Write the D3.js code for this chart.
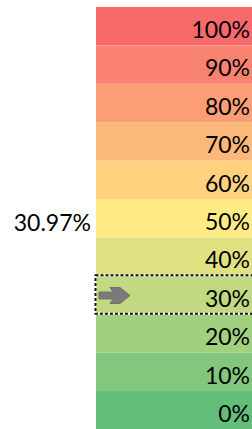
<!DOCTYPE html>
<html>
<head>
<meta charset="utf-8">
<script src="https://cdn.jsdelivr.net/npm/d3@7"></script>
<style>
  html, body { margin: 0; padding: 0; background: #fff; }
  svg { display: block; }
  text { font-family: Lato, "Open Sans", sans-serif; fill: #000; }
</style>
</head>
<body>
<svg id="chart" width="252" height="429"></svg>
<script>
// levels shown in the column, top to bottom
const levels = [100, 90, 80, 70, 60, 50, 40, 30, 20, 10, 0];
// current value (percent)
const currentValue = 30.97;
// colour stops of the 3-colour scale (low, mid, high)
const colorStops = ["#63BE7B", "#FFEB84", "#F8696B"];

const width = 252;
const height = 429;
const colLeft = 96;
const colTop = 7;
const rowH = 38.4;

const svg = d3.select("#chart");

const y = d3
  .scaleBand()
  .domain(levels)
  .range([colTop, colTop + rowH * levels.length])
  .padding(0);

const color = d3
  .scaleLinear()
  .domain([0, 50, 100])
  .range(colorStops)
  .interpolate(d3.interpolateRgb);

// cells
svg
  .selectAll(".cell")
  .data(levels)
  .enter()
  .append("rect")
  .attr("class", "cell")
  .attr("x", colLeft)
  .attr("y", (d) => y(d))
  .attr("width", width - colLeft)
  .attr("height", y.bandwidth())
  .attr("fill", (d) => color(d));

// labels, right aligned, bottom aligned like the spreadsheet
svg
  .selectAll(".lbl")
  .data(levels)
  .enter()
  .append("text")
  .attr("class", "lbl")
  .attr("x", 250)
  .attr("y", (d) => y(d) + y.bandwidth() - 7.5)
  .attr("text-anchor", "end")
  .style("font-size", "23px")
  .text((d) => d + "%");

// value shown at the left, in the middle of the column
svg
  .append("text")
  .attr("x", 91)
  .attr("y", (colTop + height) / 2 + 12.5)
  .attr("text-anchor", "end")
  .style("font-size", "23px")
  .text(currentValue.toFixed(2) + "%");

// row holding the value: highest level not above it
const hit = d3.max(levels.filter((l) => l <= currentValue));
const hy = y(hit);

// selection border (marching ants)
const sel = svg.append("g");
sel
  .append("rect")
  .attr("x", colLeft - 0.5)
  .attr("y", hy - 0.5)
  .attr("width", width)
  .attr("height", y.bandwidth())
  .attr("fill", "none")
  .attr("stroke", "#fff")
  .attr("stroke-width", 2);
sel
  .append("rect")
  .attr("x", colLeft - 0.5)
  .attr("y", hy - 0.5)
  .attr("width", width)
  .attr("height", y.bandwidth())
  .attr("fill", "none")
  .attr("stroke", "#111")
  .attr("stroke-width", 2)
  .attr("stroke-dasharray", "3,2");

// arrow icon
const cy = hy + y.bandwidth() / 2 + 0.5;
const ax = colLeft + 3;
const arrow = d3.path();
arrow.moveTo(ax, cy - 3.5);
arrow.lineTo(ax + 14, cy - 3.5);
arrow.lineTo(ax + 11, cy - 8);
arrow.lineTo(ax + 21, cy - 8);
arrow.lineTo(ax + 31, cy);
arrow.lineTo(ax + 21, cy + 8);
arrow.lineTo(ax + 11, cy + 8);
arrow.lineTo(ax + 14, cy + 3.5);
arrow.lineTo(ax, cy + 3.5);
arrow.closePath();
svg
  .append("path")
  .attr("d", arrow.toString())
  .attr("fill", "#7a7a7a")
  .attr("stroke", "#666")
  .attr("stroke-width", 0.8)
  .attr("stroke-linejoin", "round");
</script>
</body>
</html>
